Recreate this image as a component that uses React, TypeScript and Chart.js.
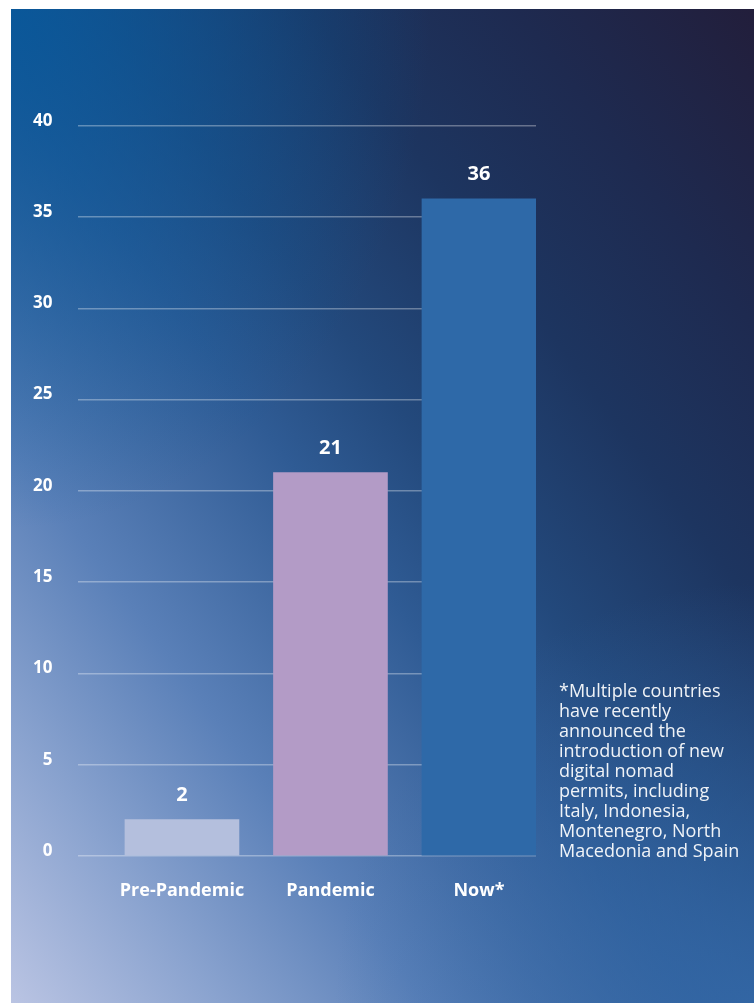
import React, { useEffect, useRef } from "react";
import { Chart, registerables } from "chart.js";

Chart.register(...registerables);

const categories = ["Pre-Pandemic", "Pandemic", "Now*"];
const categoryPositions = [0, 1, 2];
const values = [2, 21, 36];
const barColors = ["#b4bfdd", "#b39bc6", "#2e69a8"];
const yMin = 0;
const yMax = 40;
const yStep = 5;
const footnoteLines = [
  "*Multiple countries",
  "have recently",
  "announced the",
  "introduction of new",
  "digital nomad",
  "permits, including",
  "Italy, Indonesia,",
  "Montenegro, North",
  "Macedonia and Spain",
];

const FONT = "'Open Sans', 'Noto Sans', sans-serif";

const valueLabelPlugin = {
  id: "valueLabels",
  afterDatasetsDraw(chart: any) {
    const ctx = chart.ctx;
    const meta = chart.getDatasetMeta(0);
    ctx.save();
    ctx.fillStyle = "#ffffff";
    ctx.font = `bold 20px ${FONT}`;
    ctx.textAlign = "center";
    ctx.textBaseline = "middle";
    meta.data.forEach((el: any, i: number) => {
      ctx.fillText(String(values[i]), el.x, el.y - 24);
    });
    ctx.restore();
  },
};

export default function App() {
  const canvasRef = useRef<HTMLCanvasElement | null>(null);

  useEffect(() => {
    if (!canvasRef.current) return;
    const chart = new Chart(canvasRef.current, {
      type: "bar",
      data: {
        datasets: [
          {
            data: categoryPositions.map((x, i) => ({ x, y: values[i] })),
            backgroundColor: barColors,
            borderWidth: 0,
            barThickness: 114,
          } as any,
        ],
      },
      options: {
        responsive: false,
        animation: false,
        layout: { padding: { left: 0, top: 125.7, right: 218, bottom: 87 } },
        plugins: {
          legend: { display: false },
          tooltip: { enabled: false },
        },
        scales: {
          x: {
            type: "linear",
            offset: false,
            min: -0.7,
            max: 2.384,
            grid: { display: false, drawTicks: false, offset: false },
            border: { display: false },
            afterBuildTicks: (scale: any) => {
              scale.ticks = categoryPositions.map((v) => ({ value: v }));
            },
            afterFit: (scale: any) => {
              scale.height = 60;
            },
            ticks: {
              padding: 24,
              color: "#ffffff",
              font: { family: FONT, size: 18, weight: "bold" },
              callback: (v: any) => categories[categoryPositions.indexOf(Number(v))] ?? "",
              maxRotation: 0,
              autoSkip: false,
            },
          },
          y: {
            type: "linear",
            min: yMin,
            max: yMax,
            grid: {
              color: "rgba(255,255,255,0.33)",
              lineWidth: 1.5,
              drawTicks: false,
            },
            border: { display: false },
            afterFit: (scale: any) => {
              scale.width = 78;
            },
            ticks: {
              stepSize: yStep,
              padding: 25.5,
              labelOffset: -5,
              color: "#ffffff",
              font: { family: FONT, size: 17, weight: "bold" },
            },
          },
        },
      },
      plugins: [valueLabelPlugin],
    } as any);
    return () => chart.destroy();
  }, []);

  return (
    <div
      style={{
        position: "fixed",
        left: 0,
        top: 0,
        width: 754,
        height: 1003,
        overflow: "hidden",
      }}
    >
      <div
        style={{
          position: "absolute",
          left: 11,
          top: 9,
          right: 0,
          bottom: 0,
          background: [
            "radial-gradient(ellipse 420px 520px at 0% 0%, rgba(4,88,156,0.85) 0%, rgba(4,88,156,0) 100%)",
            "radial-gradient(ellipse 420px 420px at 100% 100%, rgba(52,106,170,0.8) 0%, rgba(52,106,170,0) 100%)",
            "linear-gradient(to top right, #bac4e3 0%, #8aa3cf 14%, #5a80b8 28%, #2f5b94 46%, #23497c 56%, #1d3560 70%, #1e2a50 84%, #221e3b 100%)",
          ].join(", "),
        }}
      />
      <canvas
        ref={canvasRef}
        width={754}
        height={1003}
        style={{ position: "absolute", left: 0, top: 0, display: "block" }}
      />
      <div
        style={{
          position: "absolute",
          left: 559,
          top: 680,
          fontFamily: FONT,
          fontSize: 18,
          lineHeight: "20px",
          color: "rgba(255,255,255,0.93)",
          whiteSpace: "nowrap",
        }}
      >
        {footnoteLines.map((l, i) => (
          <div key={i}>{l}</div>
        ))}
      </div>
    </div>
  );
}
